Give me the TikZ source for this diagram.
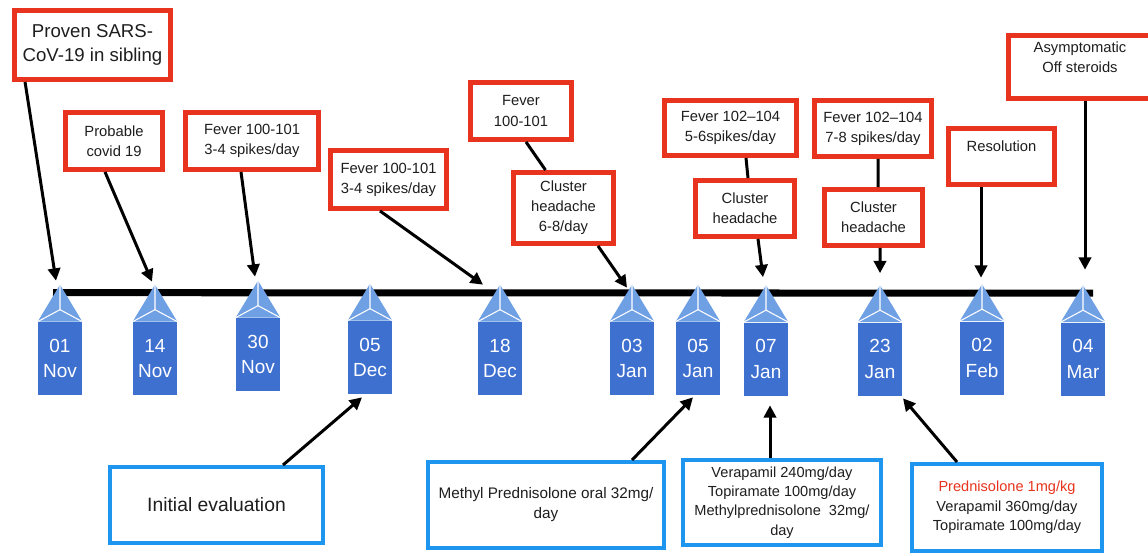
\documentclass[tikz,border=0pt]{standalone}
\usepackage{fontspec}
\setmainfont{Liberation Sans}
\usepackage{xcolor}
\usepackage{tikz}
\usetikzlibrary{arrows.meta,positioning,calc}
\definecolor{boxred}{RGB}{232,52,30}
\definecolor{boxblue}{RGB}{30,150,240}
\definecolor{datebody}{RGB}{62,112,208}
\definecolor{dateroof}{RGB}{112,160,228}
\definecolor{txtgray}{RGB}{30,30,30}

\begin{document}
\begin{tikzpicture}[
  x=0.02cm, y=-0.02cm,
  redbox/.style={rectangle, draw=boxred, line width=2.8pt, fill=white, align=center,
    inner sep=0pt, text=txtgray, font=\fontsize{8.4}{11.4}\selectfont},
  bluebox/.style={rectangle, draw=boxblue, line width=2.3pt, fill=white, align=center,
    inner sep=0pt, text=txtgray, font=\fontsize{8.3}{11}\selectfont},
  datebox/.style={rectangle, fill=datebody, text=white, align=center, inner sep=0pt,
    minimum width=0.88cm, minimum height=1.46cm, font=\fontsize{10.8}{14.5}\selectfont},
  roof/.style={fill=dateroof},
  ridge/.style={draw=white, line width=0.6pt},
  timeline/.style={line width=4pt, color=black},
  arrow/.style={-{Triangle[length=7pt,width=7pt]}, line width=1.7pt, color=black},
  link/.style={line width=1.7pt, color=black}
]
\useasboundingbox (0,0) rectangle (1148,555);
\clip (0,0) rectangle (1148,555);

% dates on the time line
\node[datebox] (D1)  at (60,358.5)  {01\\Nov};
\node[datebox] (D2)  at (155,358.5) {14\\Nov};
\node[datebox] (D3)  at (258,354.5) {30\\Nov};
\node[datebox] (D4)  at (370,357.5) {05\\Dec};
\node[datebox] (D5)  at (500,358.5) {18\\Dec};
\node[datebox] (D6)  at (632,358.5) {03\\Jan};
\node[datebox] (D7)  at (698,358.5) {05\\Jan};
\node[datebox] (D8)  at (766,359)   {07\\Jan};
\node[datebox] (D9)  at (880,359)   {23\\Jan};
\node[datebox] (D10) at (982,358)   {02\\Feb};
\node[datebox] (D11) at (1083,359)  {04\\Mar};

\draw[timeline] ($(D1.north)+(-7,-29)$) -- ($(D11.north)+(10,-29)$);

\foreach \i in {1,...,11}{
  \fill[roof] (D\i.north west) -- ($(D\i.north)+(0,-37)$) -- (D\i.north east) -- cycle;
  \draw[ridge] (D\i.north west) -- ($(D\i.north)+(0,-12)$) -- (D\i.north east)
    ($(D\i.north)+(0,-12)$) -- ($(D\i.north)+(0,-37)$);
}

% symptoms
\node[redbox, minimum width=3.12cm, minimum height=1.38cm,
  font=\fontsize{10.6}{13.7}\selectfont] (proven) at (92.5,45) {Proven SARS-\\CoV-19 in sibling};
\node[redbox, minimum width=1.94cm, minimum height=1.14cm] (probable) at (114,141) {Probable\\covid 19};
\node[redbox, minimum width=2.66cm, minimum height=1.14cm] (fevA) at (252,141) {Fever 100-101\\3-4 spikes/day};
\node[redbox, minimum width=2.32cm, minimum height=1.16cm] (fevB) at (388.5,179.5) {Fever 100-101\\3-4 spikes/day};
\node[redbox, minimum width=2.02cm, minimum height=1.14cm] (fevC) at (521,111) {Fever\\100-101};
\node[redbox, minimum width=2.00cm, minimum height=1.42cm] (clusA) at (563.5,208) {Cluster\\headache\\6-8/day};
\node[redbox, minimum width=2.64cm, minimum height=1.10cm] (fevD) at (730.5,128) {Fever 102\textendash104\\5-6spikes/day};
\node[redbox, minimum width=1.98cm, minimum height=1.12cm] (clusB) at (745,208.5) {Cluster\\headache};
\node[redbox, minimum width=2.34cm, minimum height=1.12cm] (fevE) at (873,128.5) {Fever 102\textendash104\\7-8 spikes/day};
\node[redbox, minimum width=1.96cm, minimum height=1.12cm] (clusC) at (873.5,217.5) {Cluster\\headache};
\node[redbox, minimum width=2.12cm, minimum height=1.12cm] (resol) at (1001.5,156.5) {Resolution\\\mbox{}};
\node[redbox, minimum width=2.86cm, minimum height=1.26cm] (asym) at (1080,67) {Asymptomatic\\Off steroids\\\mbox{}};

% treatment
\node[bluebox, minimum width=4.26cm, minimum height=1.52cm,
  font=\fontsize{11}{13}\selectfont] (initial) at (216.5,505) {Initial evaluation};
\node[bluebox, minimum width=4.72cm, minimum height=1.72cm,
  font=\fontsize{8.7}{11.4}\selectfont] (methyl) at (546,505) {Methyl Prednisolone oral 32mg/\\day};
\node[bluebox, minimum width=3.96cm, minimum height=1.70cm] (verap) at (782,502.5)
  {Verapamil 240mg/day\\Topiramate 100mg/day\\Methylprednisolone\ \ 32mg/\\day};
\node[bluebox, minimum width=3.80cm, minimum height=1.74cm] (predn) at (1007,507.5)
  {\textcolor{boxred}{Prednisolone 1mg/kg}\\Verapamil 360mg/day\\Topiramate 100mg/day};

% connectors
\draw[arrow] ($(proven.south west)+(13,0)$) -- ($(D1.north)+(-4,-41)$);
\draw[arrow] ($(probable.south)+(-9,0)$) -- ($(D2.north)+(-3,-40)$);
\draw[arrow] ($(fevA.south)+(-11,0)$) -- ($(D3.north)+(-3,-41)$);
\draw[arrow] ($(fevB.south)+(-8.5,0)$) -- ($(D5.north)+(-17,-37)$);
\draw[link]  ($(fevC.south)+(5,0)$) -- ($(clusA.north)+(-18,0)$);
\draw[arrow] ($(clusA.south)+(34.5,0)$) -- ($(D6.north)+(-5,-34)$);
\draw[link]  ($(fevD.south)+(15.5,0)$) -- ($(clusB.north)+(3,0)$);
\draw[arrow] ($(clusB.south)+(13,0)$) -- ($(D8.north)+(-3,-45)$);
\draw[link]  ($(fevE.south)+(5,0)$) -- ($(clusC.north)+(4.5,0)$);
\draw[arrow] ($(clusC.south)+(6.5,0)$) -- ($(D9.north)+(0,-49)$);
\draw[arrow] ($(resol.south)+(-20.5,0)$) -- ($(D10.north)+(-1,-43.5)$);
\draw[arrow] ($(asym.south)+(5,0)$) -- ($(D11.north)+(2,-52.5)$);
\draw[arrow] ($(initial.north)+(66.5,0)$) -- ($(D4.south)+(-8,3)$);
\draw[arrow] ($(methyl.north)+(86,0)$) -- ($(D7.south)+(-5,2)$);
\draw[arrow] ($(verap.north)+(-12,0)$) -- ($(D8.south)+(4,9.5)$);
\draw[arrow] ($(predn.north)+(-50,0)$) -- ($(D9.south)+(23,2.5)$);
\end{tikzpicture}
\end{document}
